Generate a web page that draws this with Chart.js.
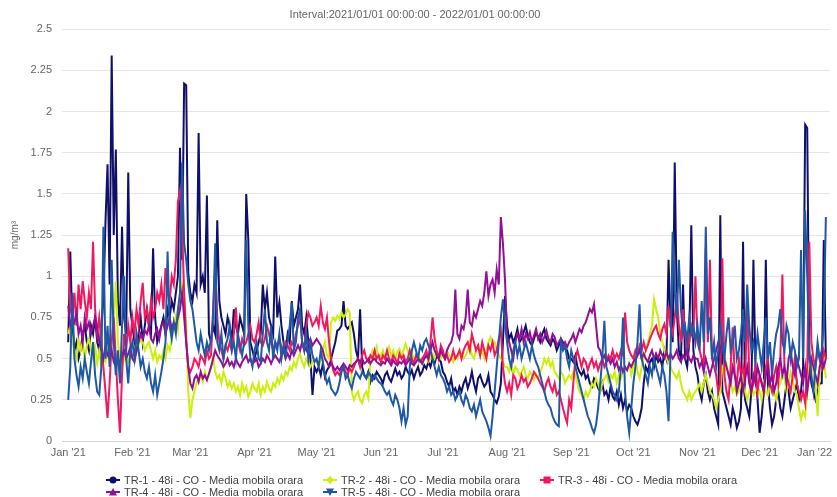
<!DOCTYPE html>
<html>
<head>
<meta charset="utf-8">
<script src="https://cdn.jsdelivr.net/npm/chart.js@4.4.1/dist/chart.umd.min.js"></script>
<style>
  html, body { margin: 0; padding: 0; background: #fff; }
  #wrap { position: relative; width: 837px; height: 497px; }
  #legenda {
    position: absolute; left: 106px; top: 474px;
    display: grid; grid-template-columns: 217px 217px 217px;
    font: 11px "Liberation Sans", Arial, sans-serif; color: #444;
  }
  .item { display: flex; align-items: center; height: 12px; white-space: nowrap; }
  .item svg { margin-right: 4px; }
</style>
</head>
<body>
<div id="wrap">
  <canvas id="grafico" width="837" height="497"></canvas>
  <div id="legenda"></div>
</div>
<script>
// month ticks (days since 2021-01-01)
const monthDays = [0, 31, 59, 90, 120, 151, 181, 212, 243, 273, 304, 334, 365];
const monthLabels = ["Jan '21", "Feb '21", "Mar '21", "Apr '21", "May '21", "Jun '21", "Jul '21",
  "Aug '21", "Sep '21", "Oct '21", "Nov '21", "Dec '21", "Jan '22"];

const seriesNames = [
  'TR-1 - 48i - CO - Media mobila orara',
  'TR-2 - 48i - CO - Media mobila orara',
  'TR-3 - 48i - CO - Media mobila orara',
  'TR-4 - 48i - CO - Media mobila orara',
  'TR-5 - 48i - CO - Media mobila orara'
];

// daily values, one line per month (Jan 2021 .. Dec 2021, then 1-2 Jan 2022)
const tr1 = [
  0.6,1.15,0.7,0.55,0.6,0.5,0.55,0.65,0.7,0.6, 0.55,0.7,0.65,0.75,0.6,0.55,0.7,0.85,1.33,1.68, 0.95,2.34,1.25,1.77,0.85,0.7,1.3,0.75,0.65,1.63, 0.8,
  0.7,0.6,0.55,0.65,0.75,0.6,0.7,0.8,0.7,0.65, 1.17,0.75,0.6,0.65,0.7,0.75,0.65,0.8,0.75,0.85, 0.8,0.9,1.0,1.78,1.1,2.17,2.16,1.02,
  0.9,0.85,0.95,0.9,1.87,0.95,1.0,0.9,1.49,0.65, 0.6,0.7,0.65,1.34,0.85,0.75,0.7,0.65,0.75,0.7, 0.6,0.8,0.7,0.65,0.75,0.7,0.65,1.5,1.22,0.6,0.55,
  0.5,0.55,0.6,0.65,0.95,0.8,0.9,0.75,0.7,0.65, 1.12,0.75,0.84,0.7,0.6,0.55,0.65,0.6,0.85,0.7, 0.75,0.8,0.95,0.7,0.65,0.75,0.6,0.5,0.28,0.45,
  0.42,0.45,0.4,0.47,0.39,0.43,0.45,0.5,0.55,0.6, 0.67,0.68,0.7,0.85,0.7,0.68,0.7,0.72,0.65,0.55, 0.5,0.8,0.45,0.4,0.38,0.42,0.36,0.4,0.38,0.42, 0.4,
  0.38,0.35,0.4,0.42,0.38,0.36,0.4,0.44,0.4,0.42, 0.38,0.4,0.45,0.42,0.4,0.43,0.38,0.42,0.45,0.4, 0.42,0.46,0.44,0.48,0.45,0.5,0.47,0.52,0.5,0.48,
  0.42,0.4,0.36,0.33,0.38,0.3,0.32,0.28,0.33,0.3, 0.35,0.38,0.32,0.36,0.42,0.35,0.3,0.38,0.4,0.36, 0.33,0.35,0.4,0.3,0.28,0.25,0.23,0.27,0.35,0.6,0.88,
  0.7,0.62,0.65,0.6,0.63,0.68,0.6,0.62,0.66,0.7, 0.64,0.6,0.58,0.62,0.66,0.63,0.6,0.65,0.68,0.62, 0.6,0.58,0.62,0.6,0.55,0.58,0.62,0.6,0.56,0.55,0.5,
  0.5,0.48,0.52,0.45,0.42,0.4,0.43,0.38,0.4,0.35, 0.33,0.38,0.36,0.32,0.3,0.35,0.28,0.3,0.25,0.33, 0.27,0.25,0.3,0.22,0.28,0.2,0.25,0.18,0.22,0.2,
  0.15,0.12,0.1,0.14,0.2,0.35,0.45,0.42,0.48,0.5, 0.45,0.52,0.48,0.5,0.45,0.55,0.5,1.1,0.7,0.6, 1.69,0.8,0.55,0.5,0.95,0.5,0.45,0.6,1.31,0.55,0.45,
  0.4,0.3,0.25,0.35,0.4,0.3,0.25,0.3,0.2,0.15, 0.1,1.37,0.3,0.25,0.2,0.15,0.1,0.2,0.15,0.08, 0.12,0.2,1.21,0.25,0.2,0.15,0.3,1.1,0.45,0.25,
  0.05,0.15,0.3,1.1,0.35,0.2,0.1,0.15,0.25,0.3, 0.2,0.15,0.25,0.35,0.3,0.2,0.25,0.3,0.35,0.25, 0.3,0.45,1.92,1.9,0.5,0.35,0.3,0.25,0.3,0.35,0.35,
  1.22,0.5
];
const tr2 = [
  0.65,0.7,0.6,0.55,0.5,0.62,0.55,0.6,0.5,0.58, 0.62,0.55,0.5,0.57,0.47,0.55,0.45,0.5,0.48,0.55, 0.5,0.6,0.75,0.97,0.6,0.5,0.45,0.5,0.55,0.48,0.5,
  0.52,0.55,0.6,0.58,0.62,0.6,0.55,0.58,0.6,0.55, 0.5,0.55,0.48,0.52,0.5,0.55,0.5,0.58,0.55,0.62, 0.7,0.76,0.68,0.85,0.95,0.9,0.7,0.3,
  0.14,0.25,0.3,0.35,0.38,0.4,0.36,0.42,0.38,0.4, 0.45,0.51,0.42,0.38,0.4,0.35,0.42,0.38,0.33,0.36, 0.32,0.35,0.3,0.33,0.28,0.35,0.3,0.33,0.27,0.3,0.35,
  0.32,0.3,0.35,0.28,0.33,0.3,0.36,0.32,0.3,0.35, 0.33,0.38,0.35,0.4,0.37,0.42,0.4,0.45,0.43,0.48, 0.45,0.5,0.53,0.48,0.45,0.5,0.47,0.45,0.48,0.5,
  0.48,0.45,0.5,0.55,0.6,0.52,0.5,0.72,0.75,0.73, 0.76,0.74,0.78,0.75,0.77,0.8,0.78,0.3,0.25,0.28, 0.3,0.25,0.23,0.28,0.3,0.26,0.5,0.55,0.52,0.57,0.5,
  0.52,0.55,0.5,0.53,0.57,0.52,0.55,0.5,0.54,0.56, 0.52,0.55,0.59,0.55,0.5,0.53,0.5,0.48,0.52,0.5, 0.47,0.5,0.52,0.48,0.5,0.53,0.5,0.55,0.52,0.5,
  0.53,0.5,0.55,0.52,0.5,0.48,0.52,0.5,0.55,0.53, 0.5,0.52,0.55,0.6,0.52,0.5,0.55,0.58,0.52,0.55, 0.5,0.55,0.6,0.63,0.58,0.6,0.55,0.52,0.5,0.48,0.45,
  0.45,0.42,0.48,0.4,0.45,0.43,0.4,0.42,0.45,0.4, 0.38,0.42,0.4,0.37,0.4,0.38,0.42,0.45,0.5,0.47, 0.5,0.45,0.48,0.42,0.4,0.38,0.42,0.4,0.35,0.38,0.4,
  0.38,0.42,0.4,0.35,0.3,0.28,0.25,0.3,0.27,0.3, 0.35,0.33,0.38,0.35,0.3,0.35,0.38,0.4,0.36,0.4, 0.38,0.42,0.35,0.4,0.38,0.42,0.45,0.43,0.47,0.4,
  0.45,0.51,0.42,0.38,0.45,0.5,0.55,0.6,0.65,0.7, 0.86,0.8,0.75,0.65,0.6,0.55,0.5,0.48,0.45,0.42, 0.4,0.38,0.42,0.35,0.3,0.28,0.25,0.3,0.25,0.28,0.3,
  0.32,0.35,0.3,0.35,0.4,0.35,0.3,0.28,0.25,0.2, 0.25,0.3,0.45,0.42,0.47,0.4,0.35,0.3,0.33,0.28, 0.3,0.35,0.4,0.3,0.25,0.3,0.35,0.28,0.3,0.33,
  0.3,0.25,0.35,0.3,0.28,0.35,0.4,0.3,0.25,0.32, 0.35,0.4,0.38,0.3,0.35,0.42,0.38,0.3,0.28,0.2, 0.13,0.18,0.15,0.3,0.45,0.5,0.42,0.35,0.15,0.4,0.47,
  0.49,0.38
];
const tr3 = [
  1.17,0.8,0.75,0.9,0.7,0.95,0.8,0.97,0.85,0.75, 0.9,0.8,1.21,0.8,0.65,0.75,0.6,0.45,0.3,0.14, 0.35,0.6,0.75,0.5,0.25,0.05,0.4,0.65,0.55,0.7,0.6,
  0.75,0.65,0.8,0.7,0.85,0.96,0.75,0.8,0.7,0.85, 0.75,0.8,0.9,0.85,0.95,0.8,1.05,0.9,0.85,1.0, 0.95,1.1,1.45,1.52,1.3,0.9,0.6,0.45,
  0.42,0.45,0.5,0.48,0.45,0.52,0.5,0.47,0.55,0.5, 0.52,0.8,1.06,0.75,0.6,0.55,0.5,0.58,0.55,0.6, 0.55,0.65,0.81,0.6,0.55,0.62,0.58,0.6,0.65,0.7,0.62,
  0.6,0.65,0.72,0.6,0.58,0.62,0.7,0.65,0.6,0.55, 0.6,0.58,0.62,0.57,0.55,0.6,0.58,0.55,0.6,0.58, 0.65,0.7,0.75,0.6,0.55,0.7,0.78,0.75,0.7,0.72,
  0.75,0.7,0.82,0.72,0.68,0.75,0.6,0.5,0.43,0.4, 0.42,0.4,0.43,0.45,0.42,0.4,0.44,0.42,0.45,0.48, 0.5,0.45,0.52,0.55,0.5,0.48,0.52,0.5,0.55,0.5,0.52,
  0.48,0.52,0.5,0.55,0.5,0.48,0.52,0.5,0.47,0.53, 0.5,0.52,0.48,0.5,0.55,0.5,0.47,0.52,0.5,0.48, 0.5,0.52,0.55,0.5,0.6,0.75,0.62,0.55,0.5,0.58,
  0.55,0.5,0.52,0.48,0.5,0.55,0.5,0.52,0.55,0.5, 0.55,0.58,0.6,0.55,0.65,0.6,0.55,0.58,0.52,0.6, 0.55,0.5,0.58,0.55,0.6,0.52,0.55,0.62,0.67,0.45,0.35,
  0.3,0.35,0.28,0.4,0.38,0.32,0.35,0.4,0.36,0.38, 0.33,0.35,0.38,0.42,0.4,0.38,0.35,0.33,0.3,0.35, 0.38,0.33,0.3,0.35,0.28,0.3,0.25,0.2,0.15,0.11,0.25,
  0.2,0.35,0.5,0.55,0.5,0.45,0.5,0.48,0.43,0.47, 0.5,0.45,0.48,0.43,0.47,0.5,0.45,0.48,0.52,0.5, 0.55,0.5,0.53,0.5,0.55,0.52,0.78,0.6,0.55,0.52,
  0.5,0.55,0.52,0.58,0.55,0.6,0.55,0.58,0.62,0.65, 0.68,0.7,0.65,0.62,0.68,0.71,0.65,0.82,0.7,0.65, 0.75,0.9,0.7,0.6,0.8,0.65,0.55,0.6,0.7,0.65,1.0,
  0.6,0.55,0.5,0.45,1.17,0.6,1.1,0.5,0.45,0.4, 0.3,0.35,1.11,0.4,0.3,0.25,0.45,0.69,0.4,0.35, 0.5,0.4,0.45,0.35,0.86,0.4,0.3,0.35,0.45,0.3,
  0.4,0.35,0.3,0.45,0.5,0.35,0.3,0.4,0.45,0.35, 0.5,1.01,0.45,0.4,0.35,0.3,0.4,0.5,0.35,0.3, 0.25,0.3,0.23,0.45,1.21,0.6,0.5,0.45,0.55,0.5,0.45,
  0.55,0.5
];
const tr4 = [
  0.82,0.7,0.75,0.72,0.78,0.65,0.7,0.6,0.75,0.68, 0.72,0.65,0.7,0.75,0.68,0.6,0.55,0.5,0.58,0.52, 0.5,0.55,0.48,0.45,0.5,0.47,0.52,0.55,0.5,0.53,0.57,
  0.5,0.48,0.55,0.6,0.65,0.62,0.67,0.65,0.7,0.62, 0.6,0.65,0.68,0.62,0.7,0.72,0.65,0.7,0.75,0.68, 0.72,0.7,0.75,0.8,0.9,0.75,0.6,0.45,
  0.35,0.32,0.38,0.4,0.36,0.42,0.38,0.4,0.37,0.41, 0.45,0.5,0.55,0.52,0.5,0.48,0.45,0.47,0.5,0.46, 0.48,0.45,0.5,0.47,0.45,0.48,0.5,0.52,0.48,0.5,0.47,
  0.48,0.5,0.45,0.47,0.5,0.48,0.52,0.5,0.47,0.5, 0.52,0.5,0.48,0.52,0.55,0.5,0.53,0.5,0.55,0.52, 0.55,0.58,0.55,0.6,0.57,0.55,0.6,0.62,0.58,0.6,
  0.62,0.6,0.58,0.55,0.5,0.48,0.45,0.47,0.45,0.43, 0.45,0.43,0.45,0.47,0.45,0.43,0.46,0.45,0.47,0.48, 0.5,0.48,0.5,0.47,0.48,0.5,0.47,0.49,0.5,0.48,0.47,
  0.46,0.48,0.47,0.5,0.48,0.46,0.49,0.47,0.46,0.48, 0.47,0.49,0.46,0.48,0.5,0.47,0.46,0.48,0.5,0.49, 0.47,0.5,0.52,0.5,0.55,0.6,0.55,0.52,0.5,0.55,
  0.52,0.5,0.55,0.58,0.6,0.65,0.92,0.65,0.62,0.7, 0.68,0.75,0.92,0.72,0.7,0.78,0.75,0.8,0.85,0.82, 0.9,1.03,0.88,0.95,0.98,0.9,1.04,0.95,1.36,1.2,0.98,
  0.63,0.6,0.55,0.5,0.6,0.65,0.62,0.68,0.6,0.65, 0.62,0.66,0.6,0.64,0.68,0.62,0.65,0.6,0.63,0.67, 0.62,0.6,0.65,0.63,0.58,0.6,0.62,0.58,0.6,0.57,0.6,
  0.62,0.65,0.6,0.64,0.68,0.66,0.7,0.72,0.76,0.8, 0.78,0.83,0.7,0.57,0.55,0.5,0.52,0.48,0.5,0.47, 0.5,0.45,0.48,0.43,0.46,0.42,0.45,0.43,0.47,0.45,
  0.48,0.5,0.52,0.55,0.5,0.53,0.5,0.48,0.52,0.55, 0.5,0.53,0.5,0.55,0.52,0.5,0.54,0.5,0.53,0.5, 0.52,0.55,0.5,0.48,0.52,0.5,0.55,0.5,0.48,0.52,0.5,
  0.5,0.45,0.48,0.42,0.5,0.45,0.4,0.45,0.5,0.55, 0.6,0.55,0.6,0.5,0.45,0.4,0.35,0.45,0.4,0.3, 0.35,0.4,0.3,0.38,0.45,0.35,0.3,0.4,0.35,0.45,
  0.4,0.35,0.3,0.4,0.45,0.35,0.4,0.3,0.35,0.45, 0.5,0.4,0.45,0.35,0.5,0.55,0.45,0.4,0.5,0.45, 0.4,0.35,0.45,0.3,0.4,0.5,0.45,0.4,0.35,0.45,0.5,
  0.45,0.5
];
const tr5 = [
  0.25,0.45,0.9,0.5,0.4,0.33,0.45,0.38,0.5,0.42, 0.35,0.48,0.6,0.4,0.3,0.28,0.45,1.3,0.5,0.7, 0.45,1.1,0.6,0.4,0.55,0.35,0.7,1.0,0.5,0.35, 0.55,
  0.6,0.5,0.65,0.55,0.45,0.5,0.42,0.38,0.45,0.35, 0.3,0.4,0.28,0.35,0.42,0.5,0.6,1.15,0.7,0.62, 0.72,0.65,0.8,0.9,1.69,1.2,1.1,0.95,
  0.85,0.8,0.7,0.6,0.55,0.65,0.58,0.52,0.6,0.55, 0.62,0.75,1.2,0.6,0.55,0.65,0.5,0.58,0.62,0.7, 0.55,0.6,0.5,0.65,0.58,0.52,0.6,1.22,0.7,0.5,0.45,
  0.55,0.6,0.5,0.48,0.65,0.8,0.6,0.55,0.7,0.5, 0.6,0.55,0.65,0.5,0.58,0.52,0.6,0.7,0.84,0.55, 0.6,0.75,0.8,0.6,0.55,0.65,0.5,0.6,0.52,0.48,
  0.5,0.45,0.55,0.48,0.4,0.35,0.38,0.32,0.3,0.28, 0.3,0.35,0.42,0.45,0.38,0.4,0.35,0.32,0.38,0.42, 0.4,0.38,0.42,0.4,0.38,0.42,0.4,0.37,0.4,0.38,0.36,
  0.35,0.33,0.3,0.28,0.3,0.25,0.22,0.28,0.25,0.2, 0.12,0.2,0.1,0.15,0.45,0.55,0.6,0.55,0.5,0.58, 0.55,0.6,0.62,0.58,0.55,0.5,0.45,0.4,0.45,0.4,
  0.38,0.35,0.3,0.33,0.28,0.3,0.25,0.28,0.3,0.25, 0.22,0.28,0.25,0.2,0.18,0.22,0.15,0.2,0.25,0.18, 0.15,0.12,0.08,0.03,0.15,0.3,0.45,0.6,0.75,0.86,0.7,
  0.6,0.5,0.45,0.55,0.6,0.52,0.58,0.5,0.55,0.6, 0.55,0.5,0.58,0.52,0.48,0.45,0.4,0.35,0.3,0.25, 0.22,0.2,0.15,0.12,0.1,0.09,0.6,0.55,0.58,0.5,0.45,
  0.55,0.5,0.45,0.4,0.35,0.3,0.25,0.2,0.15,0.12, 0.08,0.05,0.1,0.2,0.35,0.5,0.73,0.45,0.4,0.35, 0.3,0.28,0.25,0.3,0.45,0.75,0.3,0.15,0.05,0.2,
  0.35,0.45,0.6,0.83,0.5,0.45,0.4,0.35,0.45,0.4, 0.5,0.45,0.4,0.35,0.45,0.4,0.3,0.12,0.55,1.27, 0.9,0.75,1.1,0.8,0.65,0.7,0.6,0.75,0.65,0.7,0.6,
  0.7,0.55,0.85,0.6,1.3,0.65,0.75,0.5,0.6,0.45, 0.55,0.7,0.6,0.5,0.65,0.75,0.55,0.6,0.7,0.5, 0.55,0.65,0.8,0.6,0.95,0.7,0.55,0.6,0.5,0.65,
  0.55,0.45,0.6,0.75,0.5,0.6,0.4,0.55,0.65,0.7, 0.8,0.6,0.55,0.7,0.65,0.5,0.6,0.55,0.45,0.5, 1.16,0.5,1.4,1.0,0.55,0.4,0.3,0.45,0.6,0.5,0.55,
  0.7,1.36
];

const coloresSeries = ['#10106a', '#cdef0a', '#f2175e', '#940f94', '#1f59a6'];
const marcadores = ['circle', 'diamond', 'square', 'triangle', 'triangleDown'];
const valores = [tr1, tr2, tr3, tr4, tr5];

const datasets = valores.map(function(serie, k) {
  return {
    label: seriesNames[k],
    data: serie.map(function(v, i) { return { x: i, y: v }; }),
    borderColor: coloresSeries[k],
    backgroundColor: coloresSeries[k],
    borderWidth: 2,
    pointRadius: 0,
    tension: 0,
    // later series sit on top, like the original
    order: 5 - k
  };
});

Chart.defaults.font.family = '"Liberation Sans", Arial, sans-serif';
Chart.defaults.color = '#666';

var ctx = document.getElementById('grafico').getContext('2d');
var grafico = new Chart(ctx, {
  type: 'line',
  data: { datasets: datasets },
  options: {
    responsive: false,
    animation: false,
    layout: { padding: { left: 0, right: 7, top: 0, bottom: 34 } },
    plugins: {
      legend: { display: false },
      tooltip: { enabled: false },
      title: {
        display: true,
        text: 'Interval:2021/01/01 00:00:00 - 2022/01/01 00:00:00',
        color: '#666',
        font: { size: 11, weight: 'normal' },
        padding: { top: 8, bottom: 8 }
      }
    },
    scales: {
      x: {
        type: 'linear',
        min: -3,
        max: 368,
        afterBuildTicks: function(axis) {
          axis.ticks = monthDays.map(function(d) { return { value: d }; });
        },
        afterFit: function(axis) {
          axis.height = 22;
          axis.paddingLeft = 0;
          axis.paddingRight = 0;
        },
        ticks: {
          autoSkip: false,
          maxRotation: 0,
          padding: 5,
          font: { size: 11 },
          color: '#666',
          callback: function(value) {
            var i = monthDays.indexOf(value);
            if (i < 0) return '';
            // last label pushed left so it stays inside the canvas
            return i === monthDays.length - 1 ? monthLabels[i] + '      ' : monthLabels[i];
          }
        },
        grid: { display: false, drawTicks: false, tickLength: 0 },
        border: { display: true, color: '#d6d6d6' }
      },
      y: {
        min: 0,
        max: 2.5,
        afterFit: function(axis) { axis.width = 62; },
        ticks: {
          stepSize: 0.25,
          padding: 10,
          font: { size: 11 },
          color: '#666',
          callback: function(v) { return String(+v.toFixed(2)); }
        },
        grid: { color: '#e6e6e6', drawTicks: false },
        border: { display: false },
        title: {
          display: true,
          text: 'mg/m\u00b3',
          color: '#666',
          font: { size: 10 },
          padding: { top: 9, bottom: 0 }
        }
      }
    }
  }
});

// legend in rows of three, columns aligned like the original
function simbolo(tipo, color) {
  var s = '';
  if (tipo === 'circle') s = '<circle cx="7" cy="5" r="3.5" fill="' + color + '"/>';
  if (tipo === 'diamond') s = '<polygon points="7,1 11,5 7,9 3,5" fill="' + color + '"/>';
  if (tipo === 'square') s = '<rect x="3.5" y="1.5" width="7" height="7" fill="' + color + '"/>';
  if (tipo === 'triangle') s = '<polygon points="7,1 11,8.5 3,8.5" fill="' + color + '"/>';
  if (tipo === 'triangleDown') s = '<polygon points="3,1.5 11,1.5 7,9" fill="' + color + '"/>';
  return '<svg width="14" height="10" viewBox="0 0 14 10"><line x1="0" y1="5" x2="14" y2="5" stroke="' +
    color + '" stroke-width="2"/>' + s + '</svg>';
}
var legenda = document.getElementById('legenda');
grafico.data.datasets.forEach(function(ds, k) {
  var el = document.createElement('div');
  el.className = 'item';
  el.innerHTML = simbolo(marcadores[k], ds.borderColor) + '<span>' + ds.label + '</span>';
  legenda.appendChild(el);
});
</script>
</body>
</html>
